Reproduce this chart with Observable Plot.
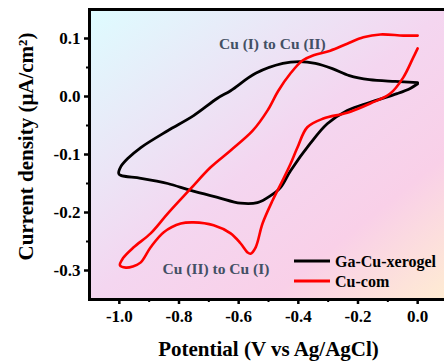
<!DOCTYPE html>
<html>
<head>
<meta charset="utf-8">
<script src="https://cdn.jsdelivr.net/npm/d3@7"></script>
<script src="https://cdn.jsdelivr.net/npm/@observablehq/plot@0.6"></script>
<style>
  html, body { margin: 0; padding: 0; background: #fff; }
  #chart svg { display: block; }
</style>
</head>
<body>
<div id="chart"></div>
<script>
// ---- Data ----
const seriesNames = ["Ga-Cu-xerogel", "Cu-com"];
const seriesColors = ["#000000", "#ff0000"];

const gaCuPotential = [0.0, -0.075, -0.162, -0.229, -0.286, -0.343, -0.396, -0.452, -0.543, -0.627, -0.671, -0.751, -0.838, -0.928, -0.972, -0.995, -1.002, -0.995, -0.928, -0.838, -0.761, -0.671, -0.594, -0.537, -0.493, -0.460, -0.426, -0.360, -0.303, -0.236, -0.159, -0.069, -0.025, 0.0];
const gaCuCurrent   = [0.024, 0.026, 0.029, 0.036, 0.048, 0.057, 0.060, 0.057, 0.040, 0.010, -0.003, -0.033, -0.059, -0.088, -0.107, -0.121, -0.133, -0.136, -0.141, -0.150, -0.162, -0.174, -0.184, -0.183, -0.171, -0.157, -0.128, -0.081, -0.047, -0.024, -0.010, 0.005, 0.014, 0.022];

const cuComPotential = [0.0, -0.048, -0.125, -0.182, -0.236, -0.293, -0.349, -0.386, -0.426, -0.467, -0.503, -0.553, -0.627, -0.694, -0.761, -0.838, -0.895, -0.952, -0.988, -0.998, -0.978, -0.955, -0.928, -0.895, -0.851, -0.794, -0.751, -0.684, -0.627, -0.594, -0.570, -0.560, -0.543, -0.520, -0.486, -0.453, -0.426, -0.403, -0.370, -0.316, -0.236, -0.159, -0.092, -0.048, -0.015, 0.0];
const cuComCurrent   = [0.105, 0.105, 0.107, 0.102, 0.091, 0.079, 0.071, 0.062, 0.040, 0.010, -0.024, -0.059, -0.093, -0.122, -0.159, -0.202, -0.236, -0.260, -0.279, -0.291, -0.295, -0.293, -0.286, -0.260, -0.234, -0.219, -0.217, -0.222, -0.236, -0.253, -0.269, -0.271, -0.260, -0.219, -0.179, -0.145, -0.116, -0.088, -0.053, -0.038, -0.028, -0.012, 0.005, 0.033, 0.067, 0.083];

const potentialTicks = [-1.0, -0.8, -0.6, -0.4, -0.2, 0.0];
const potentialMinorTicks = [-0.9, -0.7, -0.5, -0.3, -0.1];
const currentTicks = [-0.3, -0.2, -0.1, 0.0, 0.1];
const currentMinorTicks = [-0.25, -0.15, -0.05, 0.05];

const annotationTexts = ["Cu (I) to Cu (II)", "Cu (II) to Cu (I)"];
const xTitle = "Potential (V vs Ag/AgCl)";
const yTitle = "Current density (μA/cm²)";

// ---- Build tables ----
const gaCu = gaCuPotential.map((p, i) => ({p, c: gaCuCurrent[i]}));
const cuCom = cuComPotential.map((p, i) => ({p, c: cuComCurrent[i]}));

const FONT = "'Liberation Serif', 'Times New Roman', serif";
const fmt = d => d.toFixed(1);

const chart = Plot.plot({
  width: 444,
  height: 361,
  marginLeft: 89,
  marginRight: -3,
  marginTop: 9,
  marginBottom: 62,
  style: {fontFamily: FONT, background: "white", color: "black"},
  x: {domain: [-1.1, 0.1]},
  y: {domain: [-0.35, 0.15]},
  marks: [
    Plot.frame({fill: "url(#bggrad)", stroke: "none"}),
    Plot.line(gaCu, {x: "p", y: "c", stroke: seriesColors[0], strokeWidth: 2.8, curve: "catmull-rom"}),
    Plot.line(cuCom, {x: "p", y: "c", stroke: seriesColors[1], strokeWidth: 2.6, curve: "catmull-rom"}),
    Plot.text([annotationTexts[0]], {x: -0.487, y: 0.091, fontSize: 15.5, fontWeight: "bold", fill: "#435064"}),
    Plot.text([annotationTexts[1]], {x: -0.676, y: -0.297, fontSize: 15.5, fontWeight: "bold", fill: "#435064"}),
    Plot.axisX(potentialTicks, {tickSize: 5, tickPadding: 5, tickFormat: fmt, fontSize: 17, fontWeight: "bold", strokeWidth: 2.5, label: null}),
    Plot.axisX(potentialMinorTicks, {tickSize: 3, text: null, strokeWidth: 2, label: null}),
    Plot.axisY(currentTicks, {tickSize: 5, tickPadding: 4, tickFormat: fmt, fontSize: 17, fontWeight: "bold", strokeWidth: 2.5, label: null}),
    Plot.axisY(currentMinorTicks, {tickSize: 3, text: null, strokeWidth: 2, label: null}),
    Plot.frame({stroke: "black", strokeWidth: 3}),
    Plot.text([xTitle], {frameAnchor: "bottom", dy: 50, lineAnchor: "middle", textAnchor: "middle", fontSize: 21, fontWeight: "bold"}),
    Plot.text([yTitle], {frameAnchor: "left", dx: -63, dy: -8, rotate: -90, textAnchor: "middle", lineAnchor: "middle", fontSize: 21, fontWeight: "bold"})
  ]
});

// gradient background definition
const svg = d3.select(chart);
const defs = svg.insert("defs", ":first-child");
const grad = defs.append("linearGradient")
  .attr("id", "bggrad")
  .attr("x1", 0).attr("y1", 0).attr("x2", 1).attr("y2", 1);
[[0, "#defcff"], [0.5, "#f4d6f0"], [0.75, "#f9d0e8"], [1, "#ffecd2"]].forEach(([o, c]) =>
  grad.append("stop").attr("offset", o).attr("stop-color", c));

// legend
const leg = svg.append("g").attr("font-family", FONT).attr("font-weight", "bold").attr("font-size", 16);
seriesNames.forEach((name, i) => {
  const yy = 261 + i * 20;
  leg.append("line").attr("x1", 294).attr("x2", 330).attr("y1", yy).attr("y2", yy)
    .attr("stroke", seriesColors[i]).attr("stroke-width", 3);
  leg.append("text").attr("x", 335).attr("y", yy).attr("dy", "0.35em")
    .attr("text-anchor", "start").attr("fill", "black").text(name);
});

document.getElementById("chart").appendChild(chart);
</script>
</body>
</html>
